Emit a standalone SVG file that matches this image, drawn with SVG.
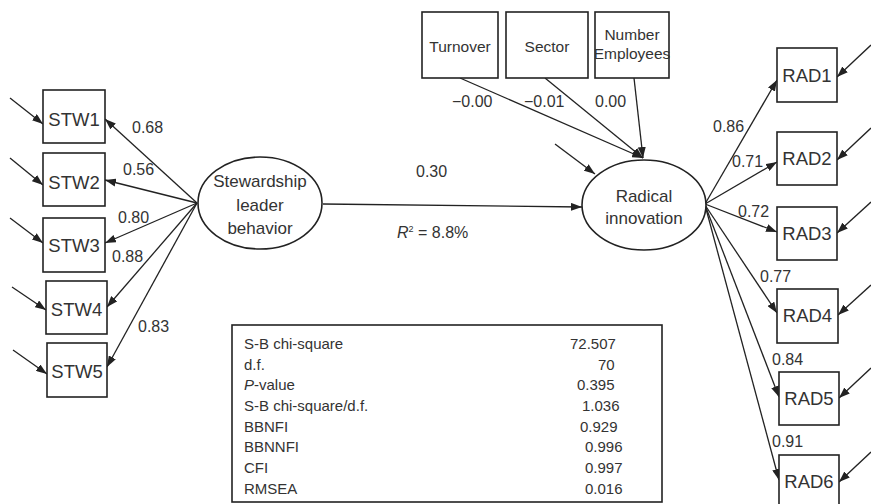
<svg xmlns="http://www.w3.org/2000/svg" width="871" height="504" viewBox="0 0 871 504">
<style>
  .box{fill:#fff;stroke:#222;stroke-width:1.6}
  .ell{fill:#fff;stroke:#222;stroke-width:1.6}
  .ln{fill:none;stroke:#222;stroke-width:1.3;marker-end:url(#ah)}
  text{font-family:"Liberation Sans",Arial,sans-serif;fill:#333}
  .ind{font-size:18.5px;text-anchor:middle}
  .lat{font-size:17px;text-anchor:middle}
  .lab{font-size:16px}
  .ctl{font-size:15.5px;text-anchor:middle}
  .tbl{font-size:15px}
</style>
<defs>
  <marker id="ah" markerUnits="userSpaceOnUse" markerWidth="11" markerHeight="8" refX="11" refY="4" orient="auto">
    <path d="M0,0 L11,4 L0,8 z" fill="#222"/>
  </marker>
</defs>
<rect width="871" height="504" fill="#fff"/>

<g id="connectors">
  <line class="ln" x1="197" y1="203" x2="105" y2="119"/>
  <line class="ln" x1="197" y1="203" x2="105" y2="180"/>
  <line class="ln" x1="197" y1="203" x2="105" y2="243"/>
  <line class="ln" x1="197" y1="203" x2="107" y2="307"/>
  <line class="ln" x1="197" y1="203" x2="107" y2="367"/>
  <line class="ln" x1="10" y1="98" x2="43" y2="124"/>
  <line class="ln" x1="10" y1="158" x2="43" y2="185"/>
  <line class="ln" x1="10" y1="218" x2="43" y2="243"/>
  <line class="ln" x1="12" y1="287" x2="46" y2="310"/>
  <line class="ln" x1="13" y1="350" x2="47" y2="374"/>
  <line class="ln" x1="323" y1="204" x2="582" y2="207"/>
  <line class="ln" x1="460" y1="78" x2="643" y2="158"/>
  <line class="ln" x1="545" y1="78" x2="643" y2="158"/>
  <line class="ln" x1="634" y1="78" x2="643" y2="158"/>
  <line class="ln" x1="555" y1="144" x2="595" y2="174"/>
  <line class="ln" x1="705" y1="204" x2="777" y2="80"/>
  <line class="ln" x1="705" y1="204" x2="777" y2="162"/>
  <line class="ln" x1="705" y1="204" x2="777" y2="232"/>
  <line class="ln" x1="705" y1="205" x2="777" y2="313"/>
  <line class="ln" x1="705" y1="205" x2="779" y2="397"/>
  <line class="ln" x1="705" y1="205" x2="779" y2="480"/>
  <line class="ln" x1="871" y1="45" x2="837" y2="77"/>
  <line class="ln" x1="871" y1="128" x2="837" y2="160"/>
  <line class="ln" x1="871" y1="202" x2="837" y2="233"/>
  <line class="ln" x1="871" y1="285" x2="838" y2="315"/>
  <line class="ln" x1="871" y1="368" x2="839" y2="398"/>
  <line class="ln" x1="871" y1="452" x2="839" y2="482"/>
</g>

<g id="labels">
  <text class="lab" x="132" y="133">0.68</text>
  <text class="lab" x="123" y="175">0.56</text>
  <text class="lab" x="118" y="223">0.80</text>
  <text class="lab" x="112" y="262">0.88</text>
  <text class="lab" x="138" y="332">0.83</text>
  <text class="lab" x="452" y="107">−0.00</text>
  <text class="lab" x="524" y="107">−0.01</text>
  <text class="lab" x="595" y="107">0.00</text>
  <text class="lab" x="416" y="177">0.30</text>
  <text class="lab" x="397" y="238" font-size="14.5"><tspan font-style="italic">R</tspan><tspan font-size="9" dy="-6">2</tspan><tspan dy="6"> = 8.8%</tspan></text>
  <text class="lab" x="713" y="132">0.86</text>
  <text class="lab" x="732" y="167">0.71</text>
  <text class="lab" x="738" y="217">0.72</text>
  <text class="lab" x="760" y="282">0.77</text>
  <text class="lab" x="772" y="365">0.84</text>
  <text class="lab" x="772" y="447">0.91</text>
</g>

<g id="STW1"><rect class="box" x="43" y="90" width="62" height="53"/><text class="ind" x="74" y="126">STW1</text></g>
<g id="STW2"><rect class="box" x="43" y="153" width="62" height="53"/><text class="ind" x="74" y="189">STW2</text></g>
<g id="STW3"><rect class="box" x="43" y="218" width="62" height="54"/><text class="ind" x="74" y="252">STW3</text></g>
<g id="STW4"><rect class="box" x="46" y="281" width="61" height="53"/><text class="ind" x="76.5" y="316">STW4</text></g>
<g id="STW5"><rect class="box" x="47" y="343" width="60" height="54"/><text class="ind" x="77" y="378">STW5</text></g>

<g id="stewardship">
  <ellipse class="ell" cx="260" cy="203" rx="62" ry="46"/>
  <text class="lat" x="260" y="187">Stewardship</text>
  <text class="lat" x="260" y="211">leader</text>
  <text class="lat" x="260" y="234">behavior</text>
</g>

<g id="turnover"><rect class="box" x="422" y="12" width="76" height="66"/><text class="ctl" x="460" y="52">Turnover</text></g>
<g id="sector"><rect class="box" x="506" y="12" width="82" height="66"/><text class="ctl" x="547" y="52">Sector</text></g>
<g id="employees"><rect class="box" x="595" y="12" width="74" height="66"/><text class="ctl" x="632" y="40" font-size="13.5">Number</text><text class="ctl" x="632" y="59" font-size="13.5">Employees</text></g>

<g id="radical">
  <ellipse class="ell" cx="644" cy="205" rx="62" ry="45"/>
  <text class="lat" x="644" y="202">Radical</text>
  <text class="lat" x="644" y="224">innovation</text>
</g>

<g id="RAD1"><rect class="box" x="777" y="48" width="60" height="54"/><text class="ind" x="807" y="82">RAD1</text></g>
<g id="RAD2"><rect class="box" x="777" y="132" width="60" height="53"/><text class="ind" x="807" y="165">RAD2</text></g>
<g id="RAD3"><rect class="box" x="777" y="207" width="60" height="53"/><text class="ind" x="807" y="240">RAD3</text></g>
<g id="RAD4"><rect class="box" x="777" y="289" width="61" height="54"/><text class="ind" x="807.5" y="322">RAD4</text></g>
<g id="RAD5"><rect class="box" x="779" y="372" width="60" height="53"/><text class="ind" x="809" y="405">RAD5</text></g>
<g id="RAD6"><rect class="box" x="779" y="455" width="60" height="53"/><text class="ind" x="809" y="488">RAD6</text></g>

<g id="fit-table">
  <rect class="box" x="232" y="325" width="430" height="177"/>
  <text class="tbl" x="244" y="349">S-B chi-square</text>
  <text class="tbl" x="244" y="370">d.f.</text>
  <text class="tbl" x="244" y="390"><tspan font-style="italic">P</tspan>-value</text>
  <text class="tbl" x="244" y="411">S-B chi-square/d.f.</text>
  <text class="tbl" x="244" y="432">BBNFI</text>
  <text class="tbl" x="244" y="452">BBNNFI</text>
  <text class="tbl" x="244" y="473">CFI</text>
  <text class="tbl" x="244" y="494">RMSEA</text>
  <text class="tbl" x="570" y="349">72.507</text>
  <text class="tbl" x="598" y="370">70</text>
  <text class="tbl" x="577" y="390">0.395</text>
  <text class="tbl" x="582" y="411">1.036</text>
  <text class="tbl" x="580" y="432">0.929</text>
  <text class="tbl" x="585" y="452">0.996</text>
  <text class="tbl" x="585" y="473">0.997</text>
  <text class="tbl" x="585" y="494">0.016</text>
</g>
</svg>
